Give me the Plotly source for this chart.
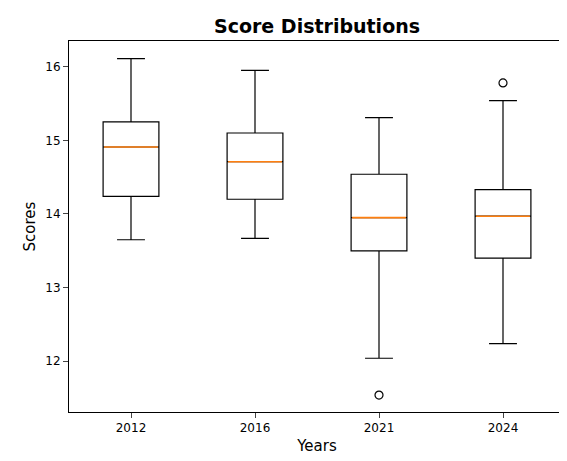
import plotly.graph_objects as go

years = ["2012", "2016", "2021", "2024"]
q1 = [14.24, 14.20, 13.50, 13.40]
median = [14.91, 14.71, 13.95, 13.97]
q3 = [15.25, 15.10, 14.54, 14.33]
lower = [13.65, 13.67, 12.04, 12.24]
upper = [16.11, 15.95, 15.31, 15.54]
outlier_x = ["2021", "2024"]
outlier_y = [11.54, 15.78]

xs = [i + 1 for i in range(len(years))]
bw = 0.45
fig = go.Figure()
fig.add_trace(go.Box(x=xs, q1=q1, median=median, q3=q3, lowerfence=lower, upperfence=upper,
                     width=bw, whiskerwidth=0.5, fillcolor="white",
                     line=dict(color="black", width=1.2), boxpoints=False, showlegend=False))
for x, m in zip(xs, median):
    fig.add_trace(go.Scatter(x=[x - bw / 2 + 0.008, x + bw / 2 - 0.008], y=[m, m], mode="lines",
                             line=dict(color="#ff7f0e", width=1.6), showlegend=False, hoverinfo="skip"))
fig.add_trace(go.Scatter(x=[years.index(v) + 1 for v in outlier_x], y=outlier_y, mode="markers",
                         marker=dict(symbol="circle-open", size=8, color="black", line=dict(width=1.2)),
                         showlegend=False))
fig.update_layout(
    width=567, height=461, plot_bgcolor="white", paper_bgcolor="white",
    margin=dict(l=61, r=10, t=33, b=57, autoexpand=False),
    font=dict(family="DejaVu Sans", color="black", size=12),
    title=dict(text="<b>Score Distributions</b>", x=0.545, xanchor="center", y=0.96, yanchor="middle",
               font=dict(size=19)),
)
fig.update_xaxes(range=[0.5, 4.5], tickvals=xs, ticktext=years, showline=True, mirror=True,
                 linecolor="black", ticks="outside", showgrid=False, zeroline=False, automargin=False,
                 title=dict(text="Years", font=dict(size=15), standoff=6))
fig.update_yaxes(range=[11.31, 16.35], tickvals=[12, 13, 14, 15, 16], showline=True, mirror=True,
                 linecolor="black", ticks="outside", showgrid=False, zeroline=False, automargin=False,
                 title=dict(text="Scores", font=dict(size=15), standoff=6))
fig.write_html("out.html")
